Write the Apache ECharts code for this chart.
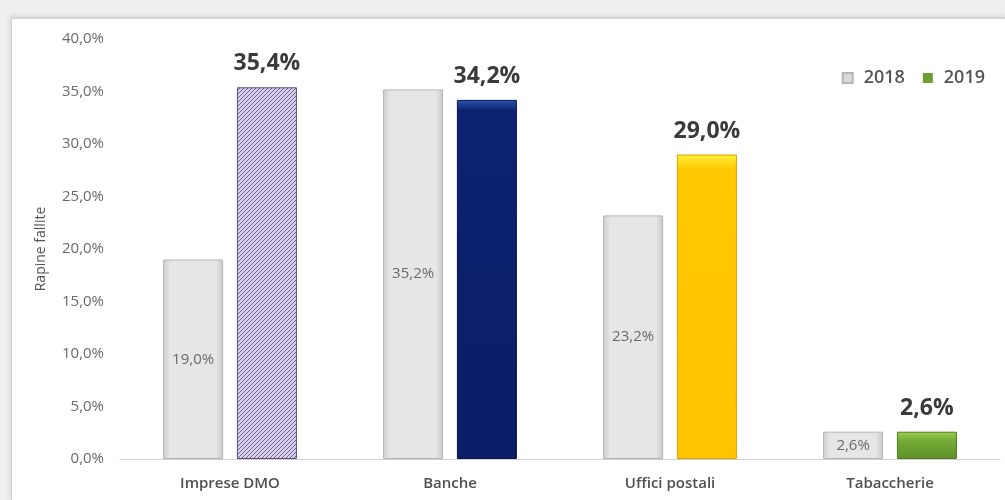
<!DOCTYPE html>
<html>
<head>
<meta charset="utf-8">
<script src="https://cdn.jsdelivr.net/npm/echarts@6/dist/echarts.min.js"></script>
<style>
html,body{margin:0;padding:0;width:1005px;height:500px;overflow:hidden;background:#fff;}
#bg{position:absolute;left:0;top:0;width:1005px;height:500px;background:#efefef;}
#frame{position:absolute;left:11px;top:17px;width:994px;height:483px;background:#fff;border-left:1px solid #cfcfcf;border-top:2px solid #d6d6d6;box-shadow:-2px -2px 4px rgba(0,0,0,0.08);}
#chart{position:absolute;left:0;top:0;width:1005px;height:500px;}
</style>
</head>
<body>
<div id="bg"></div>
<div id="frame"></div>
<div id="chart"></div>
<script>
const categories = ['Imprese DMO', 'Banche', 'Uffici postali', 'Tabaccherie'];
const values2018 = [19.0, 35.2, 23.2, 2.6];
const values2019 = [35.4, 34.2, 29.0, 2.6];
const seriesNames = ['2018', '2019'];
const yTicks = [0, 5, 10, 15, 20, 25, 30, 35, 40];

function hatch() {
  const c = document.createElement('canvas');
  c.width = 4; c.height = 4;
  const g = c.getContext('2d');
  g.fillStyle = '#d8cee9';
  g.fillRect(0, 0, 4, 4);
  g.strokeStyle = '#65588a';
  g.lineWidth = 0.9;
  g.beginPath();
  g.moveTo(-1, 5); g.lineTo(5, -1);
  g.moveTo(-3, 3); g.lineTo(3, -3);
  g.moveTo(1, 7); g.lineTo(7, 1);
  g.stroke();
  return c;
}
const grayFill = new echarts.graphic.LinearGradient(0, 0, 1, 0, [
  {offset: 0, color: '#cfcfcf'}, {offset: 0.12, color: '#e6e6e6'},
  {offset: 0.88, color: '#e6e6e6'}, {offset: 1, color: '#c8c8c8'}
]);
const colors2019 = [
  {image: hatch(), repeat: 'repeat'},
  new echarts.graphic.LinearGradient(0, 0, 0, 1, [
    {offset: 0, color: '#2a55b0'}, {offset: 0.03, color: '#0c2270'}, {offset: 1, color: '#0a1d66'}
  ]),
  new echarts.graphic.LinearGradient(0, 0, 0, 1, [
    {offset: 0, color: '#fff23a'}, {offset: 0.05, color: '#ffc800'}, {offset: 1, color: '#ffc400'}
  ]),
  new echarts.graphic.LinearGradient(0, 0, 0, 1, [
    {offset: 0, color: '#9fd050'}, {offset: 0.3, color: '#76ad35'}, {offset: 1, color: '#5e8f2a'}
  ])
];
const borders2019 = ['#5a4d7a', '#061650', '#d9a200', '#4d7a22'];
const fmt = v => v.toFixed(1).replace('.', ',') + '%';

const chart = echarts.init(document.getElementById('chart'));
chart.setOption({
  animation: false,
  textStyle: {fontFamily: '"Open Sans", Lato, sans-serif'},
  legend: {
    right: 15, top: 64,
    itemWidth: 10, itemHeight: 10, itemGap: 18,
    icon: 'rect',
    textStyle: {fontSize: 18, color: '#555', fontWeight: 600, padding: [0, 0, 0, 6]},
    data: seriesNames
  },
  grid: {left: 120, right: 5, top: 39, bottom: 41, containLabel: false},
  xAxis: {
    type: 'category',
    data: categories,
    axisLine: {lineStyle: {color: '#d0d0d0'}},
    axisTick: {show: false},
    axisLabel: {margin: 17, fontSize: 15, color: '#505050', fontWeight: 600}
  },
  yAxis: {
    type: 'value',
    min: yTicks[0], max: yTicks[yTicks.length - 1], interval: 5,
    name: 'Rapine fallite',
    nameLocation: 'middle',
    nameGap: 72,
    nameTextStyle: {fontSize: 14, color: '#555'},
    axisLine: {show: false},
    axisTick: {show: false},
    splitLine: {show: false},
    axisLabel: {margin: 16, fontSize: 15, color: '#6a6a6a', formatter: fmt}
  },
  series: [
    {
      name: seriesNames[0],
      type: 'bar',
      barWidth: 60,
      barGap: '23%',
      itemStyle: {color: '#d9d9d9', borderColor: '#b5b5b5', borderWidth: 1},
      data: values2018.map(v => ({value: v, itemStyle: {color: grayFill, borderColor: '#b5b5b5', borderWidth: 1}})),
      label: {
        show: true, position: 'inside', fontSize: 15, color: '#6a6a6a',
        formatter: p => fmt(p.value)
      }
    },
    {
      name: seriesNames[1],
      type: 'bar',
      barWidth: 60,
      itemStyle: {color: '#6f9e32'},
      data: values2019.map((v, i) => ({
        value: v,
        itemStyle: {color: colors2019[i], borderColor: borders2019[i], borderWidth: 1}
      })),
      label: {
        show: true, position: 'top', distance: 12,
        fontSize: 23, fontWeight: 'bold', color: '#3a3a3a',
        formatter: p => fmt(p.value)
      }
    }
  ]
});
</script>
</body>
</html>
